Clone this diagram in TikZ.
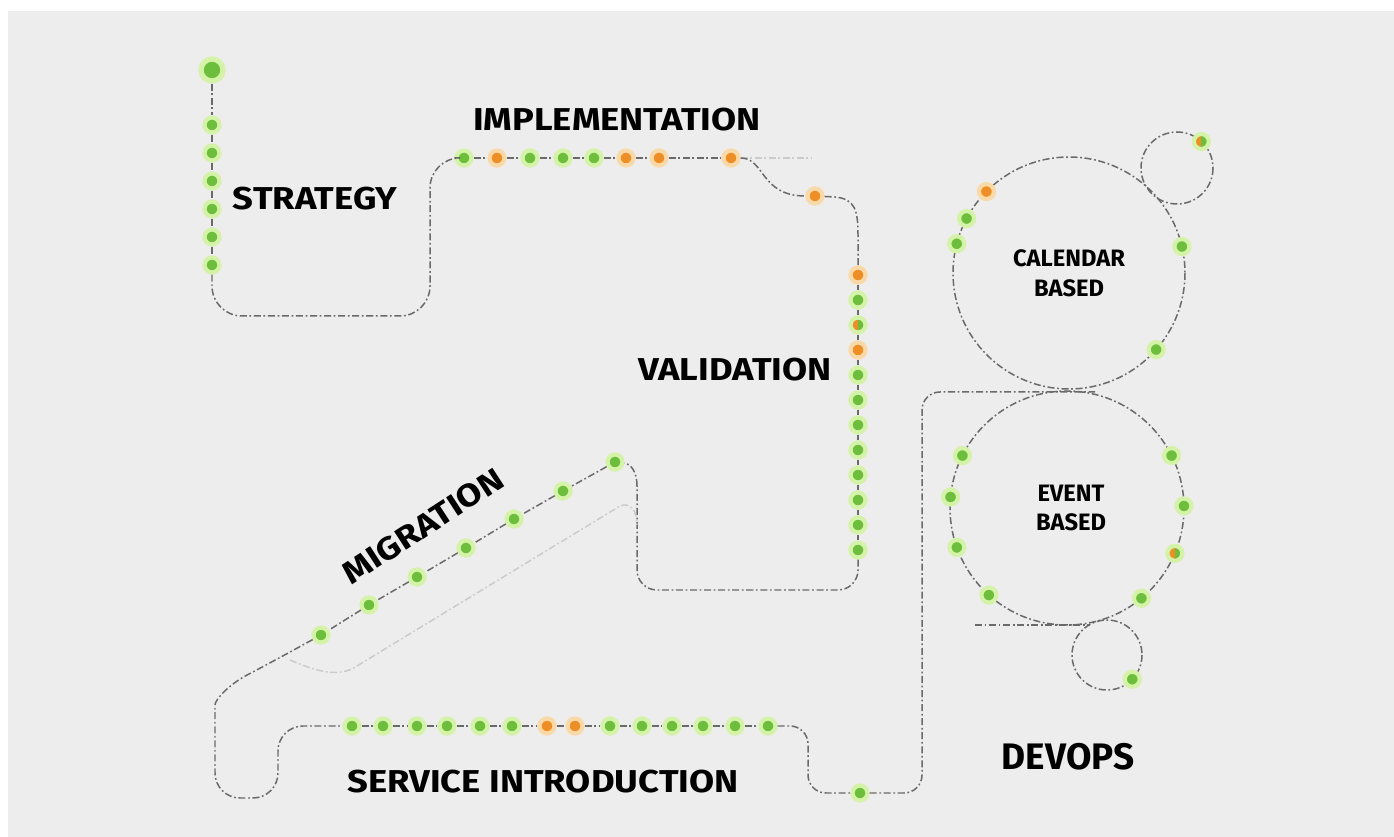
\documentclass[tikz,border=0pt]{standalone}
\usepackage{fontspec}
\setsansfont{Fira Sans}
\newfontfamily\stagefont{Fira Sans}[FakeStretch=1.15]
\usetikzlibrary{calc}

\definecolor{panel}{HTML}{EDEDED}
\definecolor{trackgray}{HTML}{6A6A6A}
\definecolor{leaf}{HTML}{6DBE3C}
\definecolor{leafring}{HTML}{D4F2A8}
\definecolor{amber}{HTML}{EE8E26}
\definecolor{amberring}{HTML}{FAD9A8}

\tikzset{
 track/.style={draw=trackgray, line width=0.85pt, dash pattern=on 4pt off 1.5pt on 1pt off 1.5pt},
 faint/.style={draw=trackgray!35},
 dot/.style={circle, inner sep=0pt, minimum size=0.3cm, fill=leaf, draw=leafring, line width=2.4pt},
 hot/.style={dot, fill=amber, draw=amberring},
 split/.style={dot, path picture={\fill[amber] (path picture bounding box.south west) rectangle (path picture bounding box.north);}},
 stage/.style={font=\stagefont\bfseries\fontsize{18}{20}\selectfont},
 cyclelabel/.style={font=\sffamily\bfseries\fontsize{13.5}{17}\selectfont, align=center},
}

\begin{document}
\begin{tikzpicture}[x=0.02cm, y=-0.02cm]
 \useasboundingbox (0,0) rectangle (1394,837);
 \fill[white] (0,0) rectangle (1394,837);
 \fill[panel] (8,11) rectangle (1394,837);

 % devops loops
 \coordinate (cal) at (1069,273);
 \coordinate (evt) at (1067,508);
 \coordinate (top) at (1177,168);
 \coordinate (low) at (1107,655);
 \draw[track] (cal) circle (116);
 \draw[track] (evt) circle (117);
 \draw[track] (top) circle (36);
 \draw[track] (low) circle (35);
 \draw[track] (975,625) -- (1090,625);

 % strategy
 \node[dot, minimum size=0.44cm, line width=3pt] (st0) at (212,70) {};
 \node[dot] (st1) at (212,125) {};
 \node[dot] (st2) at (212,153) {};
 \node[dot] (st3) at (212,181) {};
 \node[dot] (st4) at (212,209) {};
 \node[dot] (st5) at (212,237) {};
 \node[dot] (st6) at (212,265) {};

 % implementation
 \node[dot] (im0) at (464,158) {};
 \node[hot] (im1) at (497,158) {};
 \node[dot] (im2) at (530,158) {};
 \node[dot] (im3) at (563,158) {};
 \node[dot] (im4) at (594,158) {};
 \node[hot] (im5) at (626,158) {};
 \node[hot] (im6) at (659,158) {};
 \node[hot] (im7) at (731,158) {};
 \node[hot] (im8) at (815,196) {};

 % validation
 \node[hot] (va0) at (858,275) {};
 \node[dot] (va1) at (858,300) {};
 \node[split] (va2) at (858,325) {};
 \node[hot] (va3) at (858,350) {};
 \node[dot] (va4) at (858,375) {};
 \node[dot] (va5) at (858,400) {};
 \node[dot] (va6) at (858,425) {};
 \node[dot] (va7) at (858,450) {};
 \node[dot] (va8) at (858,475) {};
 \node[dot] (va9) at (858,500) {};
 \node[dot] (va10) at (858,525) {};
 \node[dot] (va11) at (858,550) {};

 % migration
 \node[dot] (mi0) at (615,462) {};
 \node[dot] (mi1) at (563,491) {};
 \node[dot] (mi2) at (514,519) {};
 \node[dot] (mi3) at (466,548) {};
 \node[dot] (mi4) at (417,577) {};
 \node[dot] (mi5) at (369,605) {};
 \node[dot] (mi6) at (321,635) {};

 % service introduction
 \node[dot] (se0) at (352,726) {};
 \node[dot] (se1) at (383,726) {};
 \node[dot] (se2) at (417,726) {};
 \node[dot] (se3) at (447,726) {};
 \node[dot] (se4) at (480,726) {};
 \node[dot] (se5) at (512,726) {};
 \node[hot] (se6) at (547,726) {};
 \node[hot] (se7) at (575,726) {};
 \node[dot] (se8) at (610,726) {};
 \node[dot] (se9) at (642,726) {};
 \node[dot] (se10) at (672,726) {};
 \node[dot] (se11) at (703,726) {};
 \node[dot] (se12) at (735,726) {};
 \node[dot] (se13) at (768,726) {};
 \node[dot] (dv0) at (860,793) {};

 % dots on the loops
 \node[hot] (ca1) at ($(cal)+(-135.4:116)$) {};
 \node[dot] (ca2) at ($(cal)+(-152:116)$) {};
 \node[dot] (ca3) at ($(cal)+(-165.4:116)$) {};
 \node[dot] (ca4) at ($(cal)+(-13.2:116)$) {};
 \node[dot] (ca5) at ($(cal)+(41.3:116)$) {};
 \node[dot] (ev1) at ($(evt)+(-153.4:117)$) {};
 \node[dot] (ev2) at ($(evt)+(-174.6:117)$) {};
 \node[dot] (ev3) at ($(evt)+(160.3:117)$) {};
 \node[dot] (ev4) at ($(evt)+(131.9:117)$) {};
 \node[dot] (ev5) at ($(evt)+(-26.6:117)$) {};
 \node[dot] (ev6) at ($(evt)+(-1:117)$) {};
 \node[split] (ev7) at ($(evt)+(22.8:117)$) {};
 \node[dot] (ev8) at ($(evt)+(50.5:117)$) {};
 \node[split] (tp1) at ($(top)+(-47.4:36)$) {};
 \node[dot] (bt1) at ($(low)+(43.8:35)$) {};

 % the track
 \draw[track] (st0) -- (st1) -- (st2) -- (st3) -- (st4) -- (st5) -- (st6);
 \draw[track, rounded corners=0.6cm] (st6) -- (212,316) -- (430,316) -- (430,158) -- (im0);
 \draw[track] (im0) -- (im1) -- (im2) -- (im3) -- (im4) -- (im5) -- (im6) -- (im7);
 \draw[track, faint] (im7) -- (812,158);
 \draw[track] (im7) .. controls (765,158) and (760,196) .. (im8);
 \draw[track] (im8) -- (835,197) .. controls (855,199) and (858,210) .. (858,235) -- (va0);
 \draw[track] (va0) -- (va1) -- (va2) -- (va3) -- (va4) -- (va5) -- (va6) -- (va7) -- (va8) -- (va9) -- (va10) -- (va11);
 \draw[track, rounded corners=0.4cm] (va11) -- (858,590) -- (637,590) -- (637,486) coordinate (mj);
 \draw[track] (mj) .. controls (637,472) and (631,464) .. (mi0);
 \draw[track] (mi0) -- (mi1) -- (mi2) -- (mi3) -- (mi4) -- (mi5) -- (mi6);
 \draw[track, faint] (290,660) .. controls (318,672) and (335,676) .. (352,669) -- (620,506) .. controls (630,502) and (637,510) .. (637,525);
 \draw[track, rounded corners=0.5cm] (mi6) -- (270,663) .. controls (228,685) and (215,700) .. (215,730) -- (215,798) -- (278,798) -- (278,726) -- (se0);
 \draw[track] (se0) -- (se1) -- (se2) -- (se3) -- (se4) -- (se5) -- (se6) -- (se7) -- (se8) -- (se9) -- (se10) -- (se11) -- (se12) -- (se13);
 \draw[track, rounded corners=0.36cm] (se13) -- (808,726) -- (808,793) -- (dv0);
 \draw[track, rounded corners=0.36cm] (dv0) -- (922,793) -- (922,392) -- (1095,392);

 % labels
 \node[stage] (strategy) at (315,199) {STRATEGY};
 \node[stage] (implementation) at (617,120) {IMPLEMENTATION};
 \node[stage] (validation) at (735,370) {VALIDATION};
 \node[stage, rotate=33] (migration) at (423,526) {MIGRATION};
 \node[stage] (service) at (543,782) {SERVICE INTRODUCTION};
 \node[font=\sffamily\bfseries\fontsize{21}{24}\selectfont] (devops) at (1068,757) {DEVOPS};
 \node[cyclelabel] (calendar) at (1069,273) {CALENDAR\\BASED};
 \node[cyclelabel] (event) at (1071,508) {EVENT\\BASED};
\end{tikzpicture}
\end{document}
